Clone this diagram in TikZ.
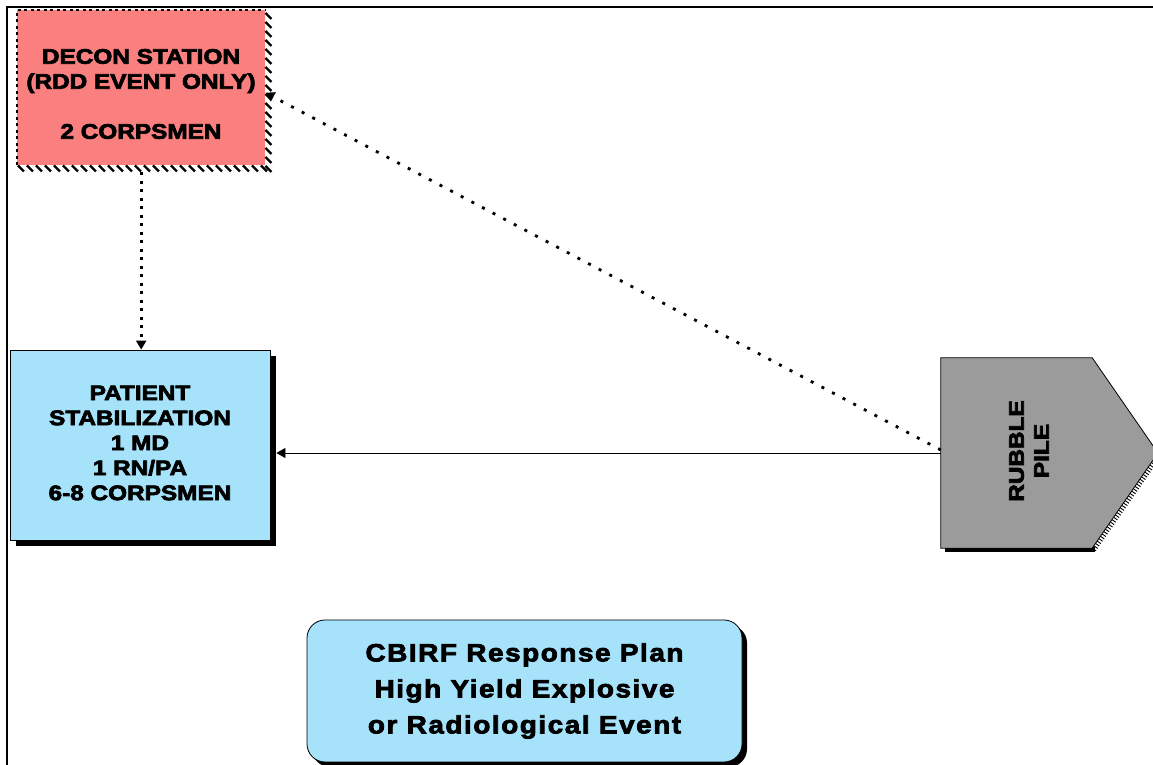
\documentclass[tikz,border=0pt]{standalone}
\usepackage{fontspec}
\setmainfont{Liberation Sans}
\newfontfamily\widefont[FakeStretch=1.16, BoldFeatures={FakeBold=3.5}]{Liberation Sans}
\newfontfamily\titlefont[FakeStretch=1.12, LetterSpace=6, BoldFeatures={FakeBold=3}]{Liberation Sans}
\usetikzlibrary{arrows.meta,calc}
\definecolor{decpink}{RGB}{250,128,128}
\definecolor{lblue}{RGB}{166,226,250}
\definecolor{rgrey}{RGB}{155,155,155}
\tikzset{
  boxtext/.style={font=\widefont\bfseries\fontsize{21}{25}\selectfont, align=center, text=black, inner sep=0pt},
  titletext/.style={font=\titlefont\bfseries\fontsize{25}{36}\selectfont, align=center, text=black, inner sep=0pt},
  hatchstroke/.style={line width=2.2pt, black},
  finestroke/.style={line width=0.9pt, black},
  dotline/.style={line width=3pt, dash pattern=on 3pt off 5.5pt},
  dotlinetwo/.style={line width=2.8pt, dash pattern=on 3pt off 9pt},
  tip/.style={-{Triangle[width=10pt,length=9pt]}},
}
\begin{document}
\begin{tikzpicture}[x=1pt,y=1pt]
\useasboundingbox (0,0) rectangle (1153,765);
\fill[white] (0,0) rectangle (1153,765);
% frame
\draw[line width=2pt] (7,0) -- (7,758) -- (1153,758);

% decon station
\node[fill=decpink, minimum width=248, minimum height=155, inner sep=0, anchor=north west] (decon) at (17,755) {};
\foreach \yy in {752,743,...,596} \draw[hatchstroke] (265.5,\yy) -- ++(6,-6);
\foreach \xx in {18,27,...,262} \draw[hatchstroke] (\xx,599.5) -- ++(6,-6);
\draw[line width=2pt, dash pattern=on 3pt off 3.5pt] (decon.south west) -- (decon.north west) -- (decon.north east);
\node[boxtext] (dtext) at (141,671) {DECON STATION\\(RDD EVENT ONLY)\\[25pt]2 CORPSMEN};

% patient stabilization
\fill[black] (16,219) rectangle (276,409);
\node[draw, line width=0.8pt, fill=lblue, minimum width=260, minimum height=190, inner sep=0] (patient) at (140,320) {};
\node[boxtext] (ptext) at (140,322) {PATIENT\\STABILIZATION\\1 MD\\1 RN/PA\\6-8 CORPSMEN};

% rubble pile
\node[minimum width=151, minimum height=190, inner sep=0] (rubble) at (1016.5,312) {};
\fill[black] (945,213) rectangle (1095,217.5);
\foreach \t in {0,0.025,...,1} \draw[finestroke] ($(1092,217)!\t!(1158,312)$) -- ++(4,-2.8);
\draw[fill=rgrey, line width=0.8pt] (rubble.south west) -- (rubble.north west) -- (rubble.north east) -- (1158,312) -- (rubble.south east) -- cycle;
\node[boxtext, rotate=90] (rtext) at (1029,314) {RUBBLE\\PILE};

% title
\fill[black, rounded corners=18pt] (312,-2) rectangle (747,140);
\node[draw, line width=0.8pt, fill=lblue, rounded corners=18pt, minimum width=435, minimum height=142, inner sep=0] (title) at (524.5,74) {};
\node[titletext] (ttext) at (524.5,74) {CBIRF Response Plan\\High Yield Explosive\\or Radiological Event};

% connectors
\draw[dotline, tip] ($(decon.south)+(0,-7)$) -- (decon.south |- patient.north);
\draw[dotlinetwo, tip] ($(rubble.west)+(0,3)$) -- ($(decon.east)+(0,-5)$);
\draw[line width=0.8pt, tip] (rubble.west) -- ($(rubble.west -| patient.east)+(6,0)$);
\end{tikzpicture}
\end{document}
